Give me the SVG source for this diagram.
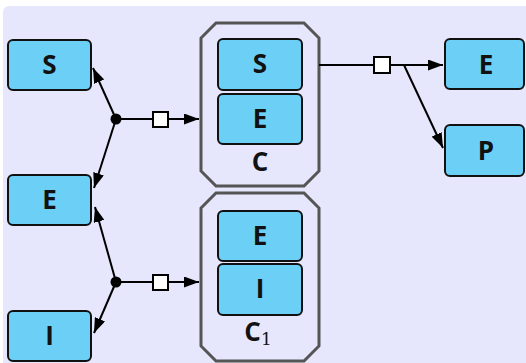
<svg xmlns="http://www.w3.org/2000/svg" width="526" height="363" viewBox="0 0 526 363">
<style>
.node rect{fill:#6ccff6;stroke:#111;stroke-width:2}
.lbl{font-family:"Open Sans","DejaVu Sans",sans-serif;font-weight:bold;font-size:26px;text-anchor:middle;fill:#111}
.oct{fill:#e6e6fc;stroke:#555;stroke-width:3}
.conn line{stroke:#000;stroke-width:2}
.sq{fill:#fff;stroke:#000;stroke-width:2}
</style>
<defs>
<marker id="ah" viewBox="0 0 15 11" refX="15" refY="5.5" markerWidth="15" markerHeight="11" markerUnits="userSpaceOnUse" orient="auto">
<path d="M0,0 L15,5.5 L0,11 z" fill="#000"/>
</marker>
</defs>
<rect x="3" y="6" width="530" height="370" rx="6" fill="#e6e6fc"/>

<g id="C">
<polygon class="oct" points="216,23 304,23 319,38 319,171 304,186 216,186 201,171 201,38"/>
<text class="lbl" x="260" y="171">C</text>
</g>
<g id="C1">
<polygon class="oct" points="216,193 304,193 319,208 319,346 304,361 216,361 201,346 201,208"/>
<text class="lbl" x="258" y="341">C<tspan font-family="'DejaVu Serif',serif" font-weight="normal" font-size="17" dy="4">1</tspan></text>
</g>

<g id="S_left" class="node"><rect x="8" y="40" width="83" height="50" rx="5"/><text class="lbl" x="49.5" y="74">S</text></g>
<g id="E_left" class="node"><rect x="8" y="175" width="83" height="50" rx="5"/><text class="lbl" x="49.5" y="209">E</text></g>
<g id="I_left" class="node"><rect x="8" y="311" width="83" height="50" rx="5"/><text class="lbl" x="49.5" y="345">I</text></g>

<g id="C_S" class="node"><rect x="218" y="39" width="84" height="51" rx="5"/><text class="lbl" x="260" y="73">S</text></g>
<g id="C_E" class="node"><rect x="218" y="94" width="84" height="50" rx="5"/><text class="lbl" x="260" y="128">E</text></g>
<g id="C1_E" class="node"><rect x="218" y="211" width="84" height="50" rx="5"/><text class="lbl" x="260" y="245">E</text></g>
<g id="C1_I" class="node"><rect x="218" y="264" width="84" height="51" rx="5"/><text class="lbl" x="260" y="298">I</text></g>

<g id="E_right" class="node"><rect x="445" y="39" width="79" height="50" rx="5"/><text class="lbl" x="486" y="74">E</text></g>
<g id="P_right" class="node"><rect x="445" y="125" width="79" height="51" rx="5"/><text class="lbl" x="486" y="160">P</text></g>

<g id="connectors" class="conn">
<line x1="116" y1="119" x2="93" y2="68" marker-end="url(#ah)"/>
<line x1="116" y1="119" x2="94" y2="188" marker-end="url(#ah)"/>
<line x1="116" y1="119" x2="199" y2="119" marker-end="url(#ah)"/>
<rect class="sq" x="153" y="112" width="15" height="15"/>
<circle cx="116" cy="119" r="5.5" fill="#000"/>

<line x1="116" y1="282" x2="95" y2="207" marker-end="url(#ah)"/>
<line x1="116" y1="282" x2="94" y2="333" marker-end="url(#ah)"/>
<line x1="116" y1="282" x2="199" y2="282" marker-end="url(#ah)"/>
<rect class="sq" x="153" y="275" width="15" height="15"/>
<circle cx="116" cy="282" r="5.5" fill="#000"/>

<line x1="319" y1="65" x2="443" y2="65" marker-end="url(#ah)"/>
<line x1="404" y1="65" x2="443" y2="148" marker-end="url(#ah)"/>
<rect class="sq" x="374" y="57" width="16" height="16"/>
</g>
</svg>
